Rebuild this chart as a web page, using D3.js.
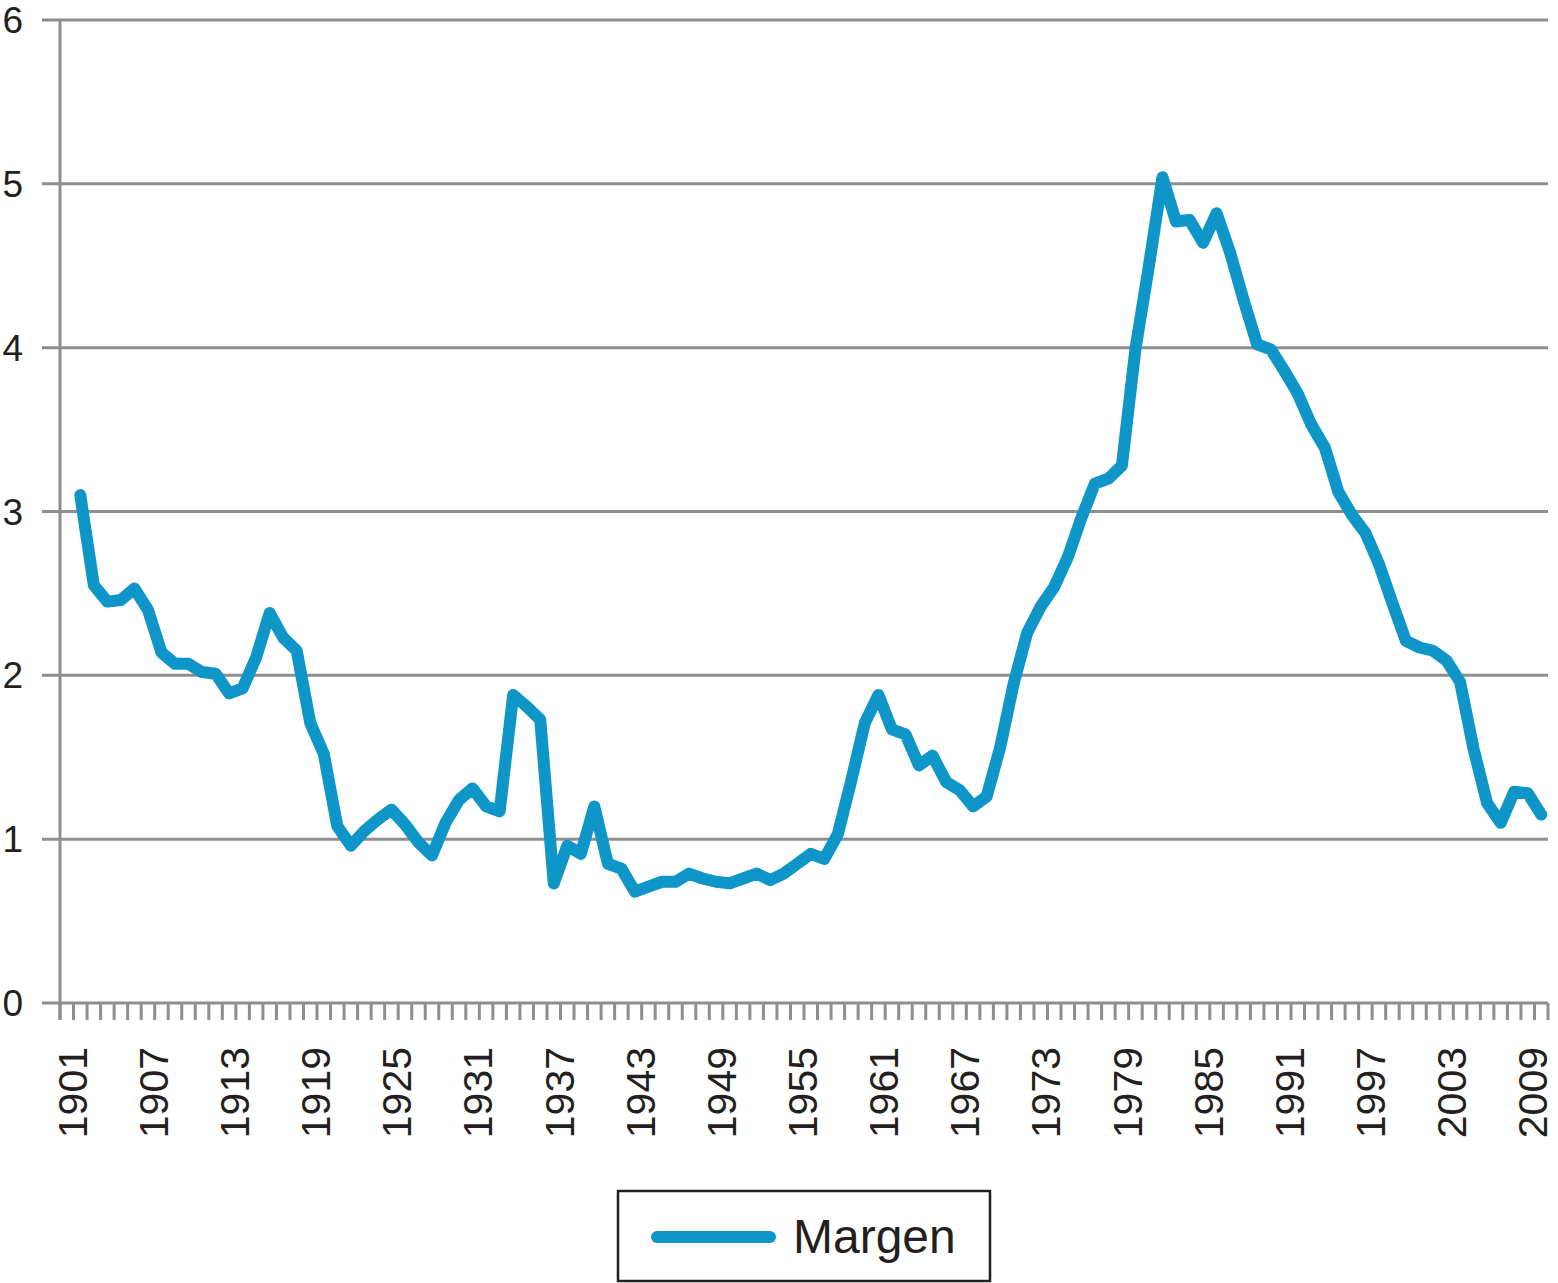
<!DOCTYPE html>
<html>
<head>
<meta charset="utf-8">
<script src="https://cdn.jsdelivr.net/npm/d3@7.9.0/dist/d3.min.js"></script>
<style>
  body { margin: 0; background: #fff; }
  svg { display: block; font-family: "Liberation Sans", Arial, sans-serif; }
</style>
</head>
<body>
<svg width="1558" height="1283"></svg>
<script>
// categories: 1901..2010, data starts 1902
const years = d3.range(1901, 2011);
const dataYears = d3.range(1902, 2011);
const margen = [
  3.10, 2.55, 2.45, 2.46, 2.53, 2.40, 2.14, 2.07, 2.07, 2.02,
  2.01, 1.89, 1.92, 2.11, 2.38, 2.23, 2.15, 1.71, 1.52, 1.08,
  0.96, 1.05, 1.12, 1.18, 1.09, 0.98, 0.90, 1.10, 1.24, 1.31,
  1.20, 1.17, 1.88, 1.81, 1.73, 0.73, 0.96, 0.91, 1.20, 0.85,
  0.82, 0.68, 0.71, 0.74, 0.74, 0.79, 0.76, 0.74, 0.73, 0.76,
  0.79, 0.75, 0.79, 0.85, 0.91, 0.88, 1.03, 1.36, 1.71, 1.88,
  1.67, 1.64, 1.45, 1.51, 1.35, 1.30, 1.20, 1.26, 1.56, 1.95,
  2.26, 2.42, 2.54, 2.72, 2.96, 3.17, 3.20, 3.28, 3.99, 4.50,
  5.04, 4.77, 4.78, 4.64, 4.82, 4.58, 4.29, 4.02, 3.99, 3.86,
  3.72, 3.53, 3.39, 3.12, 2.98, 2.87, 2.68, 2.44, 2.21, 2.17,
  2.15, 2.09, 1.96, 1.55, 1.22, 1.10, 1.29, 1.28, 1.15
];
const yTicks = [0, 1, 2, 3, 4, 5, 6];
const labelYears = years.filter((d) => (d - 1901) % 6 === 0);
const seriesName = "Margen";

const blue = "#0e96c8";
const grey = "#8e8e8e";
const ink = "#231f20";

const svg = d3.select("svg");
const plotLeft = 60, plotRight = 1548, plotTop = 20, plotBottom = 1003;

const x = d3.scaleBand().domain(years).range([plotLeft, plotRight]);
const y = d3.scaleLinear().domain([0, 6]).range([plotBottom, plotTop]);

// gridlines + y labels
svg.append("g")
  .selectAll("line")
  .data(yTicks)
  .join("line")
  .attr("x1", 42)
  .attr("x2", plotRight)
  .attr("y1", (d) => y(d))
  .attr("y2", (d) => y(d))
  .attr("stroke", grey)
  .attr("stroke-width", 3);

svg.append("g")
  .selectAll("text")
  .data(yTicks)
  .join("text")
  .attr("x", 23)
  .attr("y", (d) => y(d) + 13)
  .attr("text-anchor", "end")
  .attr("font-size", 37)
  .attr("fill", ink)
  .text((d) => d);

// y axis line
svg.append("line")
  .attr("x1", plotLeft).attr("x2", plotLeft)
  .attr("y1", plotTop).attr("y2", plotBottom + 17)
  .attr("stroke", grey).attr("stroke-width", 3);

// x tick marks at band edges
const edges = years.map((d) => x(d)).concat([plotRight]);
svg.append("g")
  .selectAll("line")
  .data(edges)
  .join("line")
  .attr("x1", (d) => d).attr("x2", (d) => d)
  .attr("y1", plotBottom).attr("y2", plotBottom + 17)
  .attr("stroke", grey).attr("stroke-width", 3);

// x labels
svg.append("g")
  .selectAll("text")
  .data(labelYears)
  .join("text")
  .attr("transform", (d) => `translate(${x(d) + x.bandwidth() / 2 + 5},1047) rotate(-90)`)
  .attr("text-anchor", "end")
  .attr("dy", "0.36em")
  .attr("font-size", 41)
  .attr("fill", ink)
  .text((d) => d);

// line
const line = d3.line()
  .x((d, i) => x(dataYears[i]) + x.bandwidth() / 2)
  .y((d) => y(d));

svg.append("path")
  .datum(margen)
  .attr("d", line)
  .attr("fill", "none")
  .attr("stroke", blue)
  .attr("stroke-width", 12)
  .attr("stroke-linejoin", "round")
  .attr("stroke-linecap", "round");

// legend
const legend = svg.append("g");
legend.append("rect")
  .attr("x", 618).attr("y", 1191)
  .attr("width", 372).attr("height", 90)
  .attr("fill", "none")
  .attr("stroke", ink)
  .attr("stroke-width", 2.5);
legend.append("line")
  .attr("x1", 657).attr("x2", 770)
  .attr("y1", 1237).attr("y2", 1237)
  .attr("stroke", blue)
  .attr("stroke-width", 12)
  .attr("stroke-linecap", "round");
legend.append("text")
  .attr("x", 793).attr("y", 1253)
  .attr("font-size", 48)
  .attr("fill", ink)
  .text(seriesName);
</script>
</body>
</html>
